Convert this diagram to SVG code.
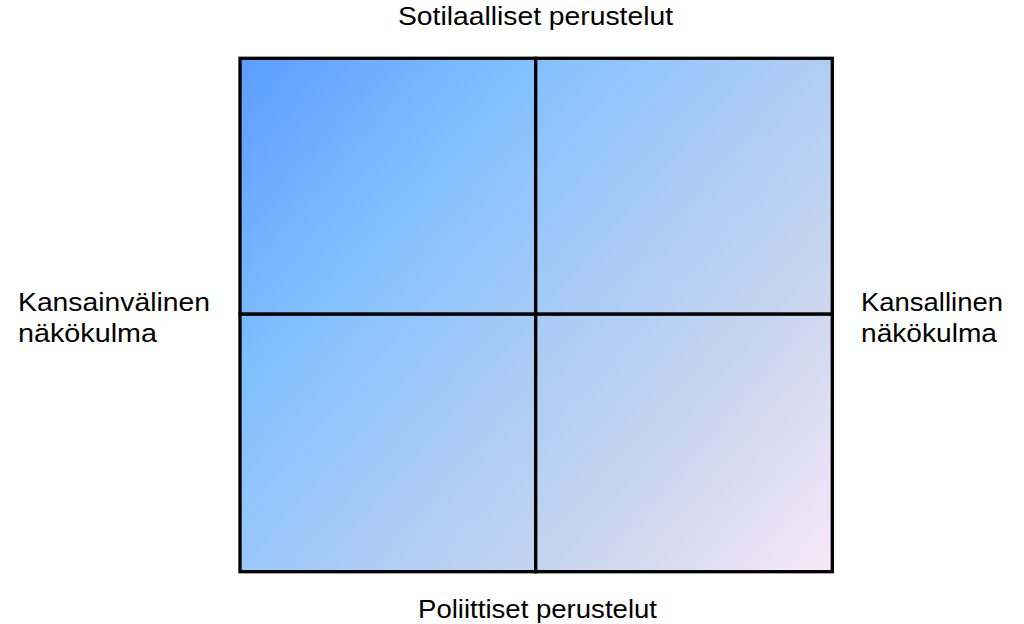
<svg xmlns="http://www.w3.org/2000/svg" width="1024" height="624" viewBox="0 0 1024 624">
  <defs>
    <linearGradient id="grad" gradientUnits="userSpaceOnUse" x1="240" y1="58" x2="832" y2="572">
      <stop offset="0" stop-color="#5c9cff"/>
      <stop offset="0.28" stop-color="#82c0ff"/>
      <stop offset="0.5" stop-color="#a6caf6"/>
      <stop offset="0.75" stop-color="#c9d6ee"/>
      <stop offset="1" stop-color="#f9e8f8"/>
    </linearGradient>
  </defs>
  <style>
    .cell { fill: url(#grad); stroke: #000; stroke-width: 3.3; }
    .lbl { font-family: "Liberation Sans", Arial, sans-serif; font-size: 25px; fill: #000; }
  </style>
  <rect width="1024" height="624" fill="#fff"/>
  <g id="cell-top-left"><rect class="cell" x="240" y="58.3" width="295.7" height="255.9"/></g>
  <g id="cell-top-right"><rect class="cell" x="535.7" y="58.3" width="296.6" height="255.9"/></g>
  <g id="cell-bottom-left"><rect class="cell" x="240" y="314.2" width="295.7" height="257.5"/></g>
  <g id="cell-bottom-right"><rect class="cell" x="535.7" y="314.2" width="296.6" height="257.5"/></g>
  <g id="connectors"/>
  <g id="label-top"><text class="lbl" x="398" y="25" textLength="275" lengthAdjust="spacingAndGlyphs">Sotilaalliset perustelut</text></g>
  <g id="label-bottom"><text class="lbl" x="418" y="617.5" textLength="239" lengthAdjust="spacingAndGlyphs">Poliittiset perustelut</text></g>
  <g id="label-left">
    <text class="lbl" x="18" y="310.5" textLength="192" lengthAdjust="spacingAndGlyphs">Kansainvälinen</text>
    <text class="lbl" x="18" y="341.7" textLength="139" lengthAdjust="spacingAndGlyphs">näkökulma</text>
  </g>
  <g id="label-right">
    <text class="lbl" x="861" y="310.5" textLength="142" lengthAdjust="spacingAndGlyphs">Kansallinen</text>
    <text class="lbl" x="861" y="341.7" textLength="136" lengthAdjust="spacingAndGlyphs">näkökulma</text>
  </g>
</svg>
